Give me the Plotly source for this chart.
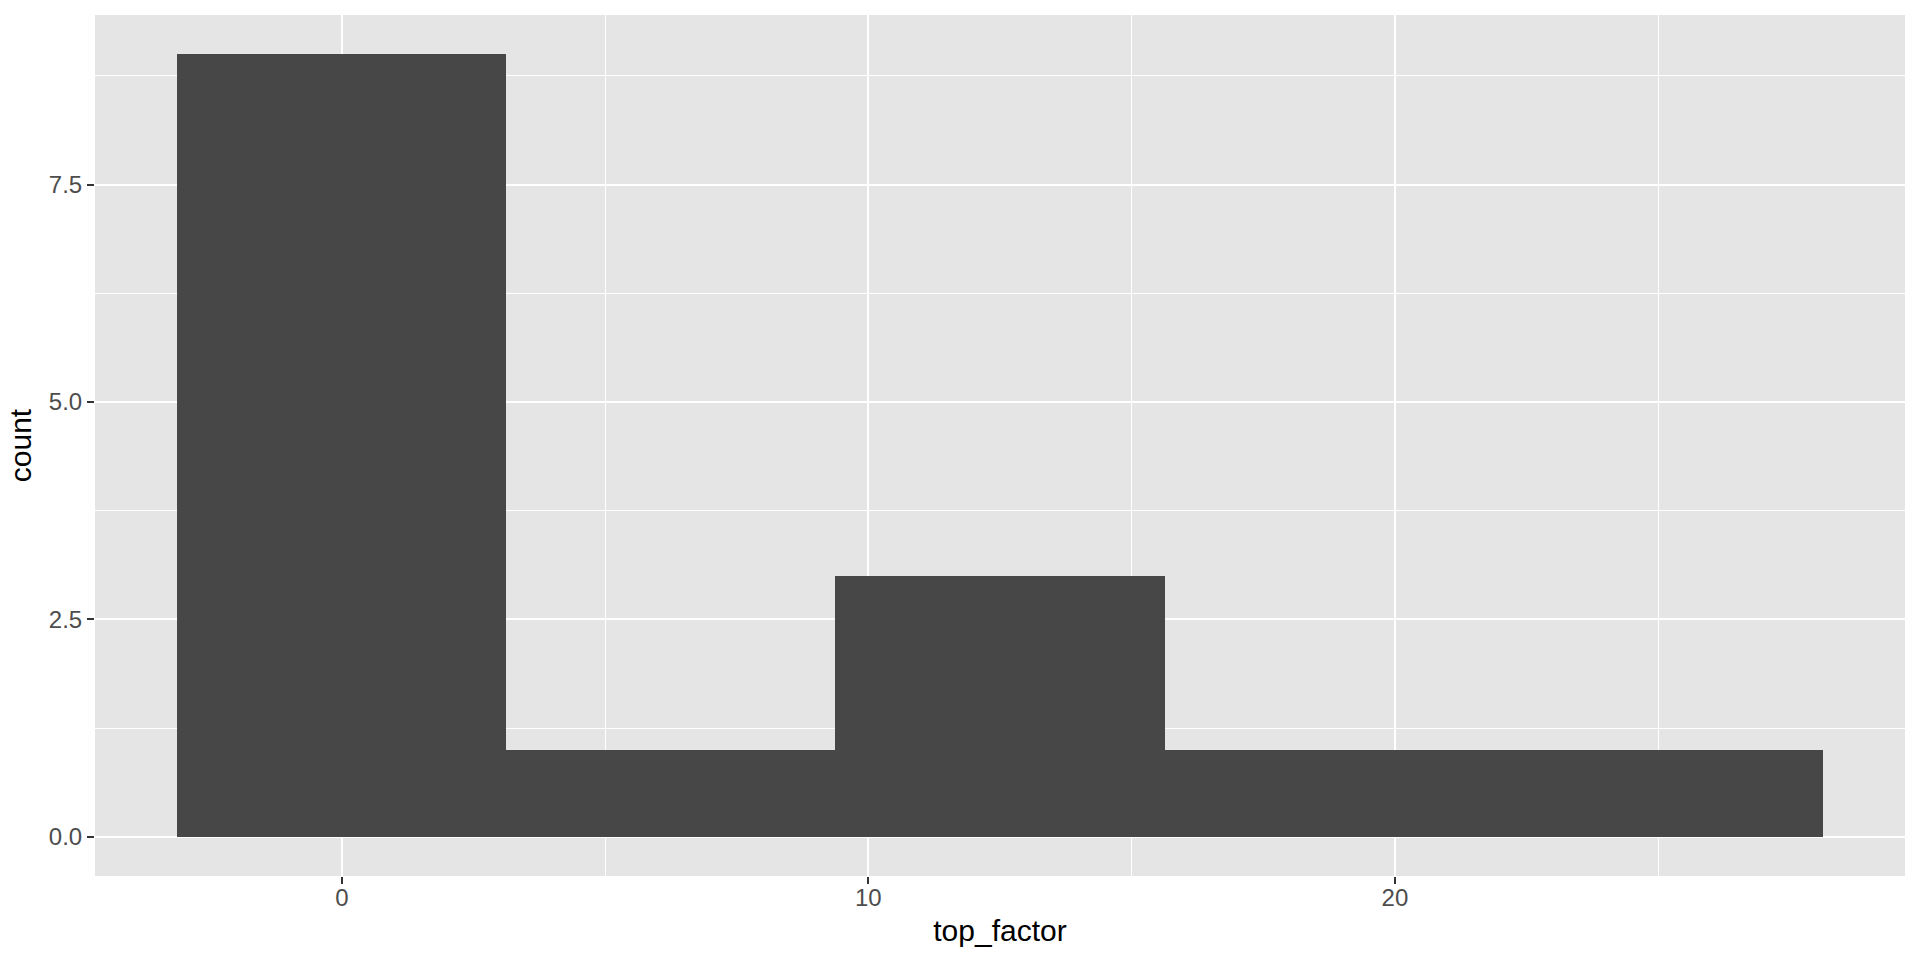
import plotly.graph_objects as go

bin_centers = [0, 6.25, 12.5, 18.75, 25]
counts = [9, 1, 3, 1, 1]
bin_width = 6.25
x_ticks = [0, 10, 20]
y_ticks = [0, 2.5, 5.0, 7.5]
y_ticklabels = ["0.0", "2.5", "5.0", "7.5"]

fig = go.Figure()
fig.add_trace(go.Bar(
    x=bin_centers, y=counts, width=[bin_width] * len(bin_centers),
    marker=dict(color="#474747", line=dict(width=0)),
    showlegend=False,
))

font = "Liberation Sans, Arial, sans-serif"
fig.update_layout(
    width=1920, height=960,
    margin=dict(l=95, r=15, t=15, b=84),
    paper_bgcolor="white", plot_bgcolor="#E5E5E5",
    bargap=0,
    font=dict(family=font),
)
fig.update_xaxes(
    range=[-4.6875, 29.6875], tickvals=x_ticks,
    ticks="outside", ticklen=7, tickwidth=2, tickcolor="#333333",
    tickfont=dict(size=24, color="#4d4d4d"), ticklabelstandoff=-7,
    showgrid=True, gridcolor="white", gridwidth=2.2,
    minor=dict(dtick=5, tick0=0, showgrid=True, gridcolor="white", gridwidth=1.1, ticks=""),
    zeroline=False, showline=False,
    title=dict(text="top_factor", font=dict(size=30, color="black"), standoff=10),
)
fig.update_yaxes(
    range=[-0.45, 9.45], tickvals=y_ticks, ticktext=y_ticklabels,
    ticks="outside", ticklen=7, tickwidth=2, tickcolor="#333333",
    tickfont=dict(size=24, color="#4d4d4d"),
    showgrid=True, gridcolor="white", gridwidth=2.2,
    minor=dict(dtick=1.25, tick0=0, showgrid=True, gridcolor="white", gridwidth=1.1, ticks=""),
    zeroline=False, showline=False,
    title=dict(text="count", font=dict(size=30, color="black"), standoff=8),
)

fig.write_html("out.html", config={"displayModeBar": False},
               post_script="document.body.style.margin='0';")
